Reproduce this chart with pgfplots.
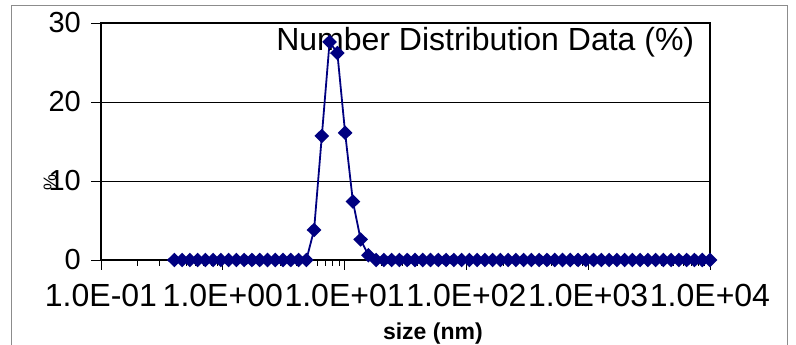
\documentclass[border=0pt]{standalone}
\usepackage{fontspec}
\setmainfont{Liberation Sans}
\usepackage{pgfplots}
\pgfplotsset{compat=1.18}
\definecolor{navy}{RGB}{0,0,128}
\pgfplotstableread{
size val
0.4 0
0.4632 0
0.5365 0
0.6213 0
0.7195 0
0.8332 0
0.9649 0
1.117 0
1.294 0
1.499 0
1.736 0
2.01 0
2.328 0
2.696 0
3.122 0
3.615 0
4.187 0
4.849 0
5.615 3.8
6.503 15.7
7.531 27.6
8.721 26.2
10.1 16.1
11.7 7.4
13.54 2.6
15.69 0.6
18.17 0
21.04 0
24.36 0
28.21 0
32.67 0
37.84 0
43.82 0
50.75 0
58.77 0
68.06 0
78.82 0
91.28 0
105.7 0
122.4 0
141.8 0
164.2 0
190.1 0
220.2 0
255.0 0
295.3 0
342.0 0
396.1 0
458.7 0
531.2 0
615.1 0
712.4 0
825.0 0
955.4 0
1106 0
1281 0
1484 0
1718 0
1990 0
2305 0
2669 0
3091 0
3580 0
4145 0
4801 0
5560 0
6439 0
7456 0
8635 0
10000 0
}\datatable
\begin{document}
\begin{tikzpicture}[x=1pt,y=1pt]
\useasboundingbox (0,0) rectangle (796,345);
\draw[black!45, line width=1pt] (11.5,-5) -- (11.5,339.5) -- (787,339.5) -- (787,-5);
\begin{axis}[
  at={(101pt,85pt)}, anchor=south west, scale only axis,
  width=609pt, height=237pt,
  xmode=log, xmin=0.1, xmax=10000, ymin=0, ymax=30,
  ytick={0,10,20,30},
  xtick={0.1,1,10,100,1000,10000},
  xticklabels={1.0E-01,1.0E+00,1.0E+01,1.0E+02,1.0E+03,1.0E+04},
  xtick pos=bottom, ytick pos=left,
  tick align=outside, major tick length=10pt, minor tick length=6pt,
  tick style={black, line width=0.9pt},
  ymajorgrids, grid style={black, line width=0.8pt},
  axis line style={black, line width=1.4pt},
  xticklabel style={font=\fontsize{32}{32}\selectfont, inner sep=0pt, anchor=north, yshift=-14pt},
  yticklabel style={font=\fontsize{29}{29}\selectfont, inner sep=0pt, anchor=east, xshift=-10pt},
  /pgf/number format/assume math mode=true,
  xlabel={size (nm)},
  xlabel style={font=\bfseries\fontsize{23}{23}\selectfont, at={(axis description cs:0.545,0)}, anchor=base, yshift=-80pt},
  ylabel={\%},
  ylabel style={font=\fontsize{18}{18}\selectfont, at={(axis description cs:-0.084,0.325)}, anchor=center, rotate=0},
  clip=false,
]
\addplot[navy, line width=1.8pt, mark=diamond*, mark size=6pt, mark options={xscale=1.35, solid, fill=navy}] table[x=size, y=val] {\datatable};
\node[anchor=base, font=\fontsize{32}{32}\selectfont] at (rel axis cs:0.631,0.882) {Number Distribution Data (\%)};
\end{axis}
\end{tikzpicture}
\end{document}
